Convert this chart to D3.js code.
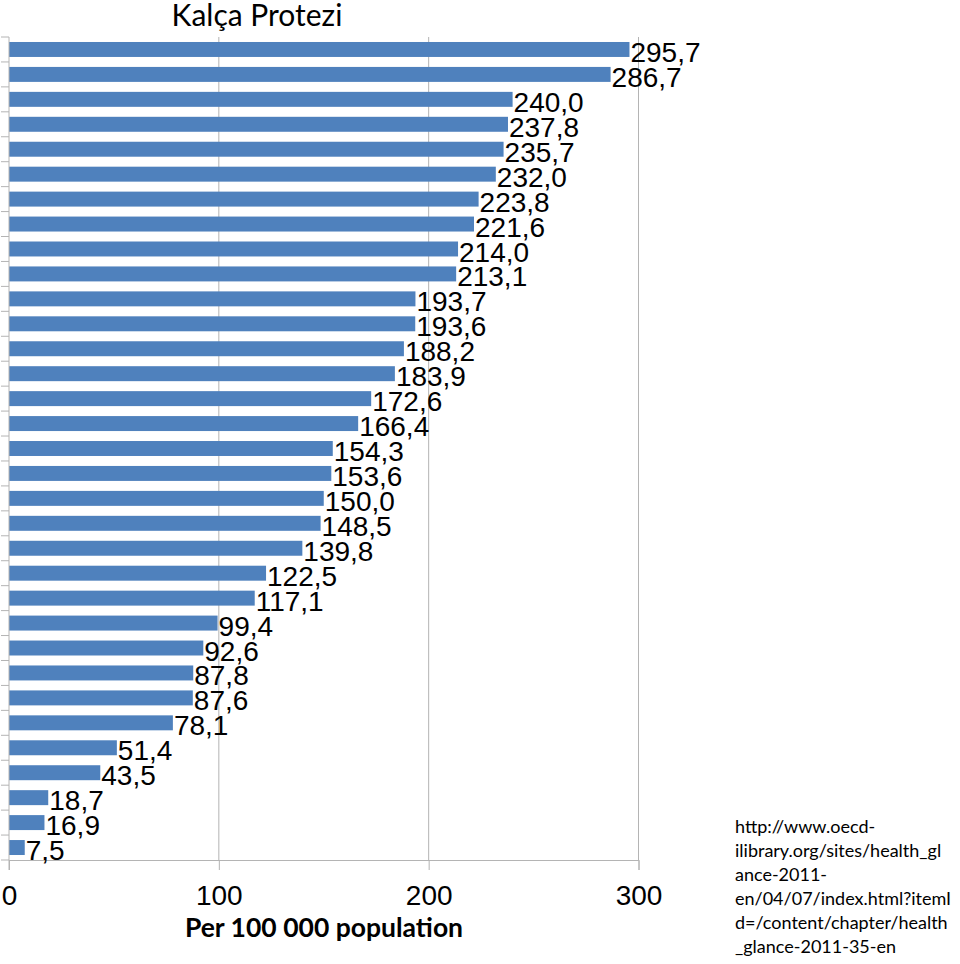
<!DOCTYPE html>
<html><head><meta charset="utf-8">
<script src="https://cdn.jsdelivr.net/npm/d3@7"></script>
<style>body{margin:0;background:#fff}svg{display:block}</style>
</head><body>
<svg id="c" width="960" height="964"></svg>
<script>
const title = "Kalça Protezi";
const categories = d3.range(1, 34).map(i => "C" + i);
const values = [295.7, 286.7, 240.0, 237.8, 235.7, 232.0, 223.8, 221.6, 214.0, 213.1,
  193.7, 193.6, 188.2, 183.9, 172.6, 166.4, 154.3, 153.6, 150.0, 148.5,
  139.8, 122.5, 117.1, 99.4, 92.6, 87.8, 87.6, 78.1, 51.4, 43.5,
  18.7, 16.9, 7.5];
const xTicks = [0, 100, 200, 300];
const xTitle = "Per 100 000 population";
const sourceLines = ["http://www.oecd-", "ilibrary.org/sites/health_gl", "ance-2011-",
  "en/04/07/index.html?itemI", "d=/content/chapter/health", "_glance-2011-35-en"];

const data = categories.map((c, i) => ({c, v: values[i]}));
const svg = d3.select("#c");
const L = 9, R = 638.5, T = 37, B = 860;
const x = d3.scaleLinear().domain([0, 300]).range([L, R]);
const y = d3.scaleBand().domain(categories).range([T, B]).paddingInner(0.4).paddingOuter(0.2);
const grid = "#b4b4b4";

// gridlines
svg.append("g").selectAll("line").data(xTicks.slice(1)).join("line")
  .attr("x1", d => x(d)).attr("x2", d => x(d)).attr("y1", T).attr("y2", B)
  .attr("stroke", grid).attr("stroke-width", 1);

// bars
svg.append("g").selectAll("rect").data(data).join("rect")
  .attr("x", x(0)).attr("y", d => y(d.c)).attr("width", d => x(d.v) - x(0))
  .attr("height", y.bandwidth()).attr("fill", "#4f81bd");

// x axis
const xa = svg.append("g").attr("transform", `translate(0,${B})`)
  .call(d3.axisBottom(x).tickValues(xTicks).tickSize(10).tickPadding(15).tickFormat(d3.format("d")));
xa.select(".domain").attr("stroke", grid);
xa.selectAll(".tick line").attr("stroke", grid);
xa.selectAll("text").attr("font-family", "Liberation Sans, Arial, sans-serif").attr("font-size", 28).attr("fill", "#000");

// y axis
const ya = svg.append("g").attr("transform", `translate(${L},0)`)
  .call(d3.axisLeft(y).tickSize(0).tickFormat(""));
ya.select(".domain").attr("stroke", grid).attr("d", `M0,${T}V${B + 10}`);
svg.append("g").selectAll("line").data(d3.range(categories.length + 1)).join("line")
  .attr("x1", 1).attr("x2", L).attr("y1", i => T + i * (B - T) / categories.length)
  .attr("y2", i => T + i * (B - T) / categories.length).attr("stroke", grid);

// value labels
svg.append("g").selectAll("text").data(data).join("text")
  .attr("x", d => x(d.v) + 1).attr("y", d => y(d.c) + 20)
  .attr("font-family", "Liberation Sans, Arial, sans-serif").attr("font-size", 28).attr("fill", "#000")
  .text(d => d3.format(".1f")(d.v).replace(".", ","));

// title
svg.append("text").attr("x", 257).attr("y", 26).attr("text-anchor", "middle")
  .attr("font-family", "Lato, 'Open Sans', sans-serif").attr("font-size", 30).attr("fill", "#000").text(title);

// x title
svg.append("text").attr("x", 324).attr("y", 937).attr("text-anchor", "middle")
  .attr("font-family", "Lato, 'Open Sans', sans-serif").attr("font-weight", "bold").attr("font-size", 26.5).attr("fill", "#000").text(xTitle);

// source
svg.append("g").selectAll("text").data(sourceLines).join("text")
  .attr("x", 735).attr("y", (d, i) => 833 + i * 24)
  .attr("font-family", "Lato, 'Open Sans', sans-serif").attr("font-size", 18).attr("fill", "#000").text(d => d);
</script>
</body></html>
